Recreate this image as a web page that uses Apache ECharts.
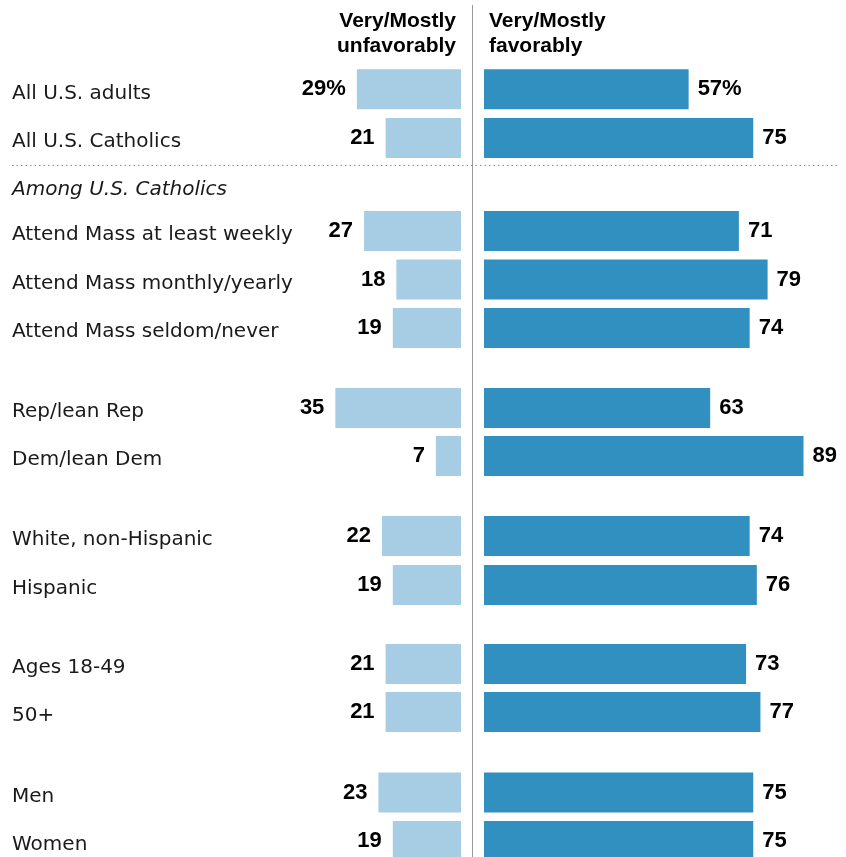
<!DOCTYPE html>
<html><head><meta charset="utf-8">
<script src="https://cdn.jsdelivr.net/npm/echarts@6/dist/echarts.min.js"></script>
<style>html,body{margin:0;padding:0;background:#fff}#c{width:846px;height:857px}</style>
</head><body><div id="c"></div>
<script>
// ---- data ----
const groupCategories = [
  ['All U.S. adults', 'All U.S. Catholics'],
  ['Attend Mass at least weekly', 'Attend Mass monthly/yearly', 'Attend Mass seldom/never'],
  ['Rep/lean Rep', 'Dem/lean Dem'],
  ['White, non-Hispanic', 'Hispanic'],
  ['Ages 18-49', '50+'],
  ['Men', 'Women']
];
const groupUnfavorable = [[29, 21], [27, 18, 19], [35, 7], [22, 19], [21, 21], [23, 19]];
const groupFavorable = [[57, 75], [71, 79, 74], [63, 89], [74, 76], [73, 77], [75, 75]];
const headerLeft = 'Very/Mostly\nunfavorably';
const headerRight = 'Very/Mostly\nfavorably';
const subheading = 'Among U.S. Catholics';

// ---- layout ----
const groupFirstRow = [89.3, 231, 408, 536, 664, 792.5];
const rowStep = [48.8, 48.5, 48, 49, 48, 48.5];
const scale = 3.59;
const leftMax = 40, rightMax = 100;
const leftEdge = 461, rightStart = 484;
const LABEL_FONT = '"DejaVu Sans", sans-serif';
const NUM_FONT = '"Liberation Sans", Arial, sans-serif';
const LIGHT = '#a6cde3', DARK = '#3290c0';

const grids = [], xAxes = [], yAxes = [], series = [];
groupCategories.forEach((cats, g) => {
  const h = rowStep[g] * (cats.length - 1);
  const lw = leftMax * scale;
  grids.push({left: leftEdge - lw, width: lw, top: groupFirstRow[g], height: h});
  grids.push({left: rightStart, width: rightMax * scale, top: groupFirstRow[g], height: h});
  const li = g * 2, ri = g * 2 + 1;
  xAxes.push({gridIndex: li, type: 'value', min: 0, max: leftMax, inverse: true, show: false});
  xAxes.push({gridIndex: ri, type: 'value', min: 0, max: rightMax, show: false});
  yAxes.push({gridIndex: li, type: 'category', data: cats, inverse: true, position: 'left', boundaryGap: false,
    axisLine: {show: false}, axisTick: {show: false}, splitLine: {show: false},
    axisLabel: {align: 'left', verticalAlign: 'top', lineHeight: 8, margin: leftEdge - lw - 12,
      color: '#1a1a1a', fontSize: 20, fontFamily: LABEL_FONT}});
  yAxes.push({gridIndex: ri, type: 'category', data: cats, inverse: true, boundaryGap: false, show: false});
  const numLabel = (pos, dist) => ({show: true, position: pos, distance: dist, color: '#000', fontWeight: 'bold',
    fontSize: 22, fontFamily: NUM_FONT,
    formatter: p => p.value + (g === 0 && p.dataIndex === 0 ? '%' : '')});
  series.push({type: 'bar', xAxisIndex: li, yAxisIndex: li, data: groupUnfavorable[g], barWidth: 40,
    itemStyle: {color: LIGHT}, silent: true, label: numLabel('left', 11)});
  series.push({type: 'bar', xAxisIndex: ri, yAxisIndex: ri, data: groupFavorable[g], barWidth: 40,
    itemStyle: {color: DARK}, silent: true, label: numLabel('right', 9)});
});

const chart = echarts.init(document.getElementById('c'), null, {renderer: 'canvas'});
chart.setOption({
  animation: false,
  grid: grids, xAxis: xAxes, yAxis: yAxes, series: series,
  graphic: [
    {type: 'line', shape: {x1: 472.5, y1: 5, x2: 472.5, y2: 857}, style: {stroke: '#999', lineWidth: 1}, silent: true},
    {type: 'line', shape: {x1: 12, y1: 165.5, x2: 840, y2: 165.5}, style: {stroke: '#888', lineWidth: 1, lineDash: [1.5, 3]}, silent: true},
    {type: 'text', x: 456, y: 9, style: {text: headerLeft, align: 'right', verticalAlign: 'top', font: 'bold 21px ' + NUM_FONT, lineHeight: 25, fill: '#000'}},
    {type: 'text', x: 489, y: 9, style: {text: headerRight, align: 'left', verticalAlign: 'top', font: 'bold 21px ' + NUM_FONT, lineHeight: 25, fill: '#000'}},
    {type: 'text', x: 12, y: 190, style: {text: subheading, align: 'left', verticalAlign: 'middle', font: 'italic 20px ' + LABEL_FONT, fill: '#1a1a1a'}}
  ]
});
</script></body></html>
